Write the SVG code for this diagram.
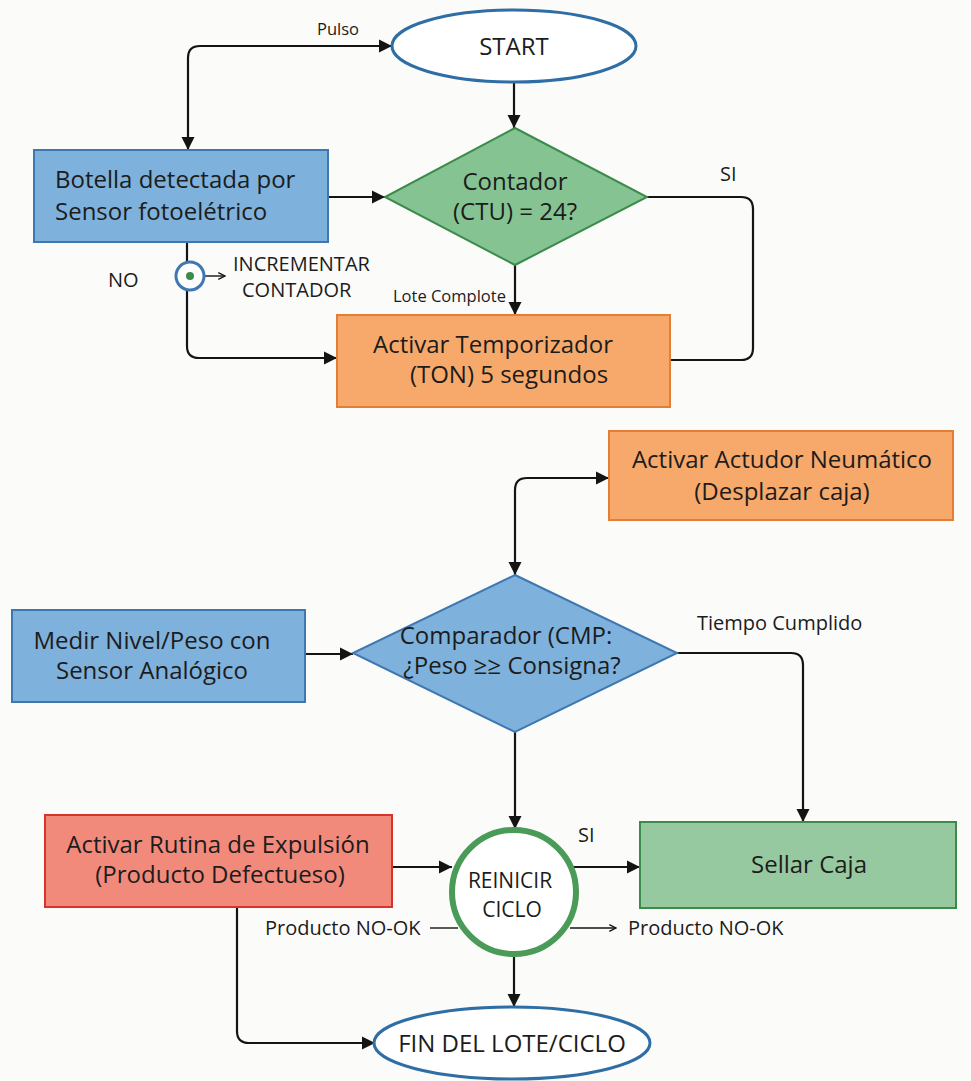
<svg xmlns="http://www.w3.org/2000/svg" width="971" height="1081" viewBox="0 0 971 1081">
  <style>
    .t { font-family: "Open Sans", Lato, "Liberation Sans", sans-serif; fill: #1c1c1c; }
    .big { font-size: 24px; }
    .mid { font-size: 21px; }
    .sm { font-size: 20px; }
    .xs { font-size: 16.5px; }
    .c { text-anchor: middle; }
    .conn { fill: none; stroke: #141414; stroke-width: 2.2; }
    .thin { fill: none; stroke: #141414; stroke-width: 1.4; }
    .blue { fill: #7eb1db; stroke: #3f78b0; stroke-width: 2; }
    .green { fill: #86c393; stroke: #3b8c4b; stroke-width: 2; }
    .orange { fill: #f6a96b; stroke: #e27f34; stroke-width: 2; }
    .red { fill: #f28a7c; stroke: #d8322d; stroke-width: 2; }
    .term { fill: #ffffff; stroke: #2f6ea5; stroke-width: 3; }
  </style>
  <defs>
    <marker id="arrow" viewBox="0 0 10 10" refX="10" refY="5" markerWidth="6" markerHeight="6" orient="auto-start-reverse">
      <path d="M0,0 L10,5 L0,10 z" fill="#141414"/>
    </marker>
    <marker id="arrowSmall" viewBox="0 0 10 10" refX="9" refY="5" markerWidth="6" markerHeight="6" orient="auto">
      <path d="M1,1 L9,5 L1,9" fill="none" stroke="#141414" stroke-width="1.6"/>
    </marker>
  </defs>

  <rect x="0" y="0" width="971" height="1081" fill="#fbfbfa"/>

  <!-- connectors -->
  <g id="connectors">
    <path class="conn" d="M188 150 V58 Q188 46 200 46 H392" marker-start="url(#arrow)" marker-end="url(#arrow)"/>
    <path class="conn" d="M514 82 V128" marker-end="url(#arrow)"/>
    <path class="conn" d="M328 197 H385" marker-end="url(#arrow)"/>
    <path class="conn" d="M515 265 V315" marker-end="url(#arrow)"/>
    <path class="conn" d="M647 197 H741 Q753 197 753 209 V348 Q753 360 741 360 H670"/>
    <path class="conn" d="M187 242 V346 Q187 358 199 358 H337" marker-end="url(#arrow)"/>
    <path class="thin" d="M204 276 H225" marker-end="url(#arrowSmall)"/>
    <path class="conn" d="M609 478 H527 Q515 478 515 490 V575" marker-start="url(#arrow)" marker-end="url(#arrow)"/>
    <path class="conn" d="M305 654 H353" marker-end="url(#arrow)"/>
    <path class="conn" d="M677 653 H791 Q803 653 803 665 V822" marker-end="url(#arrow)"/>
    <path class="conn" d="M515 732 V829" marker-end="url(#arrow)"/>
    <path class="conn" d="M392 867 H452" marker-end="url(#arrow)"/>
    <path class="conn" d="M573 867 H640" marker-end="url(#arrow)"/>
    <path class="thin" d="M570 928 H616" marker-end="url(#arrowSmall)"/>
    <path class="thin" d="M430 928 H458"/>
    <path class="conn" d="M237 907 V1031 Q237 1043 249 1043 H375" marker-end="url(#arrow)"/>
    <path class="conn" d="M514 957 V1007" marker-end="url(#arrow)"/>

    <text class="t xs" x="317" y="35">Pulso</text>
    <text class="t sm" x="720" y="181">SI</text>
    <text class="t xs" x="393" y="302">Lote Complote</text>
    <text class="t sm" x="108" y="287">NO</text>
    <text class="t sm" x="233" y="271">INCREMENTAR</text>
    <text class="t sm" x="242" y="297">CONTADOR</text>
    <text class="t sm" x="697" y="630">Tiempo Cumplido</text>
    <text class="t sm" x="578" y="842">SI</text>
    <text class="t sm" x="628" y="935">Producto NO-OK</text>
    <text class="t sm" x="265" y="935">Producto NO-OK</text>
  </g>

  <g id="start">
    <ellipse class="term" cx="514" cy="46" rx="122" ry="36"/>
    <text class="t big c" x="514" y="55">START</text>
  </g>

  <g id="botella">
    <rect class="blue" x="34" y="150" width="294" height="92"/>
    <text class="t big" x="55" y="188">Botella detectada por</text>
    <text class="t big" x="55" y="220">Sensor fotoelétrico</text>
  </g>

  <g id="incrementar">
    <circle cx="190" cy="276" r="14" fill="#ffffff" stroke="#3f78b0" stroke-width="3"/>
    <circle cx="190" cy="276" r="4" fill="#3b8c4b"/>
  </g>

  <g id="contador">
    <polygon class="green" points="515,128 647,197 515,265 385,197"/>
    <text class="t big c" x="515" y="190">Contador</text>
    <text class="t big c" x="515" y="220">(CTU) = 24?</text>
  </g>

  <g id="temporizador">
    <rect class="orange" x="337" y="315" width="333" height="92"/>
    <text class="t big c" x="493" y="353">Activar Temporizador</text>
    <text class="t big c" x="509" y="383">(TON) 5 segundos</text>
  </g>

  <g id="actuador">
    <rect class="orange" x="609" y="431" width="344" height="89"/>
    <text class="t big c" x="782" y="468">Activar Actudor Neumático</text>
    <text class="t big c" x="782" y="500">(Desplazar caja)</text>
  </g>

  <g id="medir">
    <rect class="blue" x="12" y="610" width="293" height="92"/>
    <text class="t big c" x="152" y="649">Medir Nivel/Peso con</text>
    <text class="t big c" x="152" y="679">Sensor Analógico</text>
  </g>

  <g id="comparador">
    <polygon class="blue" points="515,575 677,653 515,732 353,653"/>
    <text class="t big c" x="506" y="644">Comparador (CMP:</text>
    <text class="t big c" x="512" y="674">¿Peso ≥≥ Consigna?</text>
  </g>

  <g id="expulsion">
    <rect class="red" x="45" y="815" width="347" height="92"/>
    <text class="t big c" x="218" y="853">Activar Rutina de Expulsión</text>
    <text class="t big c" x="220" y="883">(Producto Defectueso)</text>
  </g>

  <g id="reiniciar">
    <circle cx="514" cy="892" r="62" fill="#ffffff" stroke="#4a9a58" stroke-width="6"/>
    <text class="t mid c" x="510" y="888">REINICIR</text>
    <text class="t mid c" x="512" y="917">CICLO</text>
  </g>

  <g id="sellar">
    <rect class="green" x="640" y="822" width="316" height="86" style="fill:#97c9a1"/>
    <text class="t big c" x="809" y="873">Sellar Caja</text>
  </g>

  <g id="fin">
    <ellipse class="term" cx="512" cy="1043" rx="138" ry="36"/>
    <text class="t big c" x="512" y="1052">FIN DEL LOTE/CICLO</text>
  </g>
</svg>
